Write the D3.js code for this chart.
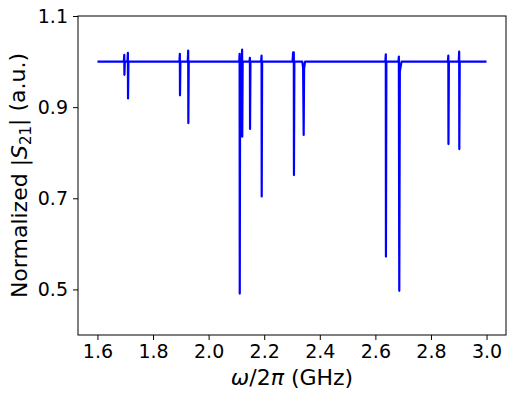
<!DOCTYPE html>
<html>
<head>
<meta charset="utf-8">
<script src="https://cdn.jsdelivr.net/npm/d3@7"></script>
<style>
  body { margin: 0; background: #fff; }
  svg { display: block; font-family: "DejaVu Sans", sans-serif; }
</style>
</head>
<body>
<div id="chart"></div>
<script>
// transmission trace: frequency (GHz) and normalized |S21|
const freqGHz = [
  1.600,
  1.695, 1.6965, 1.697, 1.6985,
  1.708, 1.7095, 1.710, 1.7115,
  1.895, 1.8965, 1.897, 1.8985,
  1.925, 1.9265, 1.927, 1.9285,
  2.110, 2.1115, 2.112, 2.1135,
  2.119, 2.1205, 2.121, 2.1225,
  2.147, 2.1485, 2.149, 2.1505,
  2.189, 2.1905, 2.191, 2.1925,
  2.302, 2.304, 2.3065, 2.307, 2.3085,
  2.337, 2.340, 2.342, 2.3435, 2.347,
  2.636, 2.6375, 2.638, 2.6395,
  2.683, 2.6845, 2.686, 2.688, 2.690, 2.694,
  2.861, 2.8625, 2.863, 2.8645,
  2.900, 2.9015, 2.902, 2.9035,
  3.000
];
const s21 = [
  1.000,
  1.000, 1.015, 0.971, 1.000,
  1.000, 1.019, 0.919, 1.000,
  1.000, 1.017, 0.926, 1.000,
  1.000, 1.024, 0.865, 1.000,
  1.000, 1.017, 0.491, 1.000,
  1.000, 1.026, 0.835, 1.000,
  1.000, 1.008, 0.852, 1.000,
  1.000, 1.013, 0.704, 1.000,
  1.000, 1.020, 1.020, 0.751, 1.000,
  1.000, 0.986, 0.839, 0.984, 1.000,
  1.000, 1.016, 0.572, 1.000,
  1.000, 1.011, 0.497, 0.978, 0.985, 1.000,
  1.000, 1.013, 0.819, 1.000,
  1.000, 1.022, 0.808, 1.000,
  1.000
];
const xTicks = [1.6, 1.8, 2.0, 2.2, 2.4, 2.6, 2.8, 3.0];
const yTicks = [0.5, 0.7, 0.9, 1.1];

const width = 514, height = 399;
const margin = { top: 16, right: 8, bottom: 64, left: 78 };
const innerW = width - margin.left - margin.right;
const innerH = height - margin.top - margin.bottom;

const points = freqGHz.map((f, i) => ({ f: f, v: s21[i] }));

const x = d3.scaleLinear().domain([1.53, 3.07]).range([0, innerW]);
const y = d3.scaleLinear().domain([0.4, 1.1]).range([innerH, 0]);

const svg = d3.select("#chart")
  .append("svg")
  .attr("width", width)
  .attr("height", height);

const g = svg.append("g")
  .attr("transform", `translate(${margin.left},${margin.top})`);

const line = d3.line()
  .x(d => x(d.f))
  .y(d => y(d.v));

g.append("path")
  .datum(points)
  .attr("fill", "none")
  .attr("stroke", "#0000ff")
  .attr("stroke-width", 2.2)
  .attr("stroke-linejoin", "round")
  .attr("d", line);

// x axis
const xAxis = g.append("g")
  .attr("transform", `translate(0,${innerH})`)
  .call(d3.axisBottom(x).tickValues(xTicks).tickFormat(d3.format(".1f"))
    .tickSize(5).tickSizeOuter(0).tickPadding(5));

// y axis
const yAxis = g.append("g")
  .call(d3.axisLeft(y).tickValues(yTicks).tickFormat(d3.format(".1f"))
    .tickSize(5).tickSizeOuter(0).tickPadding(5));

[xAxis, yAxis].forEach(a => {
  a.select(".domain").remove();
  a.selectAll("text")
    .attr("fill", "#000")
    .style("font-size", "19px")
    .style("font-family", "'DejaVu Sans', sans-serif");
  a.selectAll("line").attr("stroke", "#000");
});

// frame
g.append("rect")
  .attr("width", innerW)
  .attr("height", innerH)
  .attr("fill", "none")
  .attr("stroke", "#000")
  .attr("stroke-width", 1);

// x label
const xl = svg.append("text")
  .attr("x", margin.left + innerW / 2)
  .attr("y", 385)
  .attr("text-anchor", "middle")
  .style("font-size", "22px");
xl.append("tspan").style("font-style", "italic").text("ω");
xl.append("tspan").text("/2");
xl.append("tspan").style("font-style", "italic").text("π");
xl.append("tspan").text(" (GHz)");

// y label
const yl = svg.append("text")
  .attr("transform", `translate(27,${margin.top + innerH / 2}) rotate(-90)`)
  .attr("text-anchor", "middle")
  .style("font-size", "22px");
yl.append("tspan").text("Normalized |");
yl.append("tspan").style("font-style", "italic").text("S");
yl.append("tspan").attr("dy", "0.25em").style("font-size", "15px").text("21");
yl.append("tspan").attr("dy", "-0.25em").text("| (a.u.)");
</script>
</body>
</html>
